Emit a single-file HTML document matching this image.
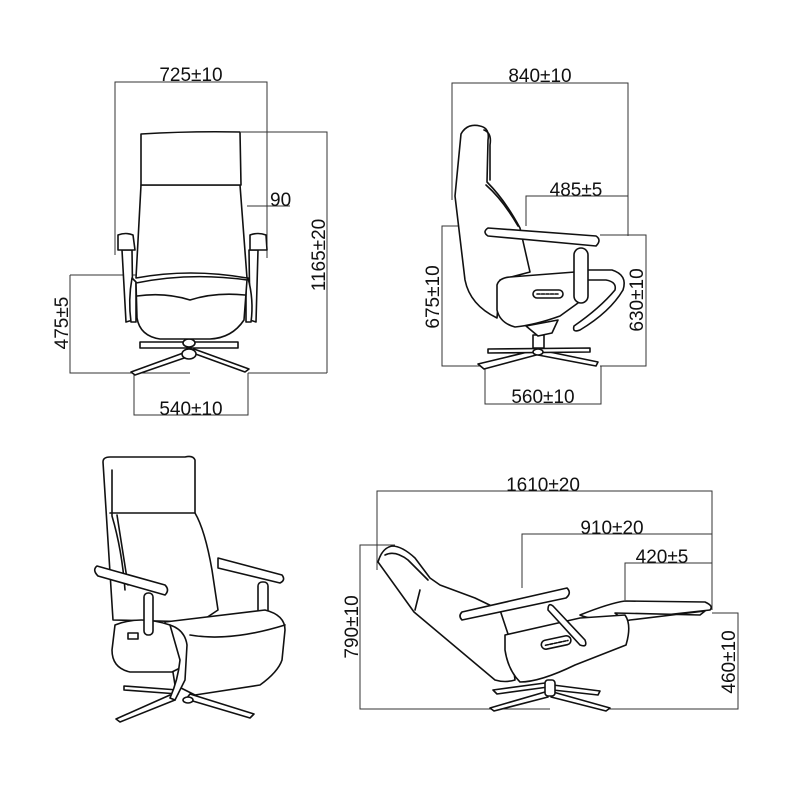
<!DOCTYPE html>
<html><head><meta charset="utf-8"><style>
html,body{margin:0;padding:0;background:#fff;}
svg{display:block}
text{font-family:"Liberation Sans",Arial,sans-serif;font-size:19px;fill:#111;}
.d{stroke:#333;stroke-width:1;fill:none}
.c{stroke:#111;stroke-width:1.6;fill:#fff;stroke-linejoin:round;stroke-linecap:round}
.n{stroke:#111;stroke-width:1.6;fill:none;stroke-linejoin:round;stroke-linecap:round}
</style></head><body>
<svg width="800" height="800" viewBox="0 0 800 800" xmlns="http://www.w3.org/2000/svg">
<!-- ===== FRONT VIEW ===== -->
<g>
<path class="d" d="M115 255V82H267V258M241 132H327V373M248 373H327M247 206H290M70 275H136M70 275V373H190M134 373V415H248V373"/>
<text x="191" y="81" text-anchor="middle">725±10</text>
<text x="270" y="206">90</text>
<text transform="translate(325,255) rotate(-90)" text-anchor="middle">1165±20</text>
<text transform="translate(68,323) rotate(-90)" text-anchor="middle">475±5</text>
<text x="191" y="415" text-anchor="middle">540±10</text>
<!-- base -->
<path class="c" d="M140 342L238 342L238 348L140 348Z"/>
<path class="c" d="M186 352L131 372L135 375L190 356Z"/>
<path class="c" d="M190 352L245 372L249 369L194 349Z"/>
<ellipse class="c" cx="189" cy="354" rx="7" ry="5"/>
<ellipse class="c" cx="189" cy="343" rx="6" ry="4"/>
<!-- side posts -->
<path class="c" d="M122 250L132 250L133 320L126 322Z"/>
<path class="c" d="M249 250L258 250L256 322L250 320Z"/>
<path class="c" d="M132 278Q128 300 131 322L136 322L136 282Z"/>
<path class="c" d="M248 278Q254 300 251 322L246 322L246 282Z"/>
<!-- seat -->
<path class="c" d="M136 283Q190 272 247 280L244 320Q232 338 210 339L160 339Q140 336 137 318Z"/>
<path class="n" d="M137 296Q165 292 190 300Q215 292 245 295"/>
<!-- back -->
<path class="c" d="M141 185L136 278Q190 268 247 278L240 185Z"/>
<!-- headrest -->
<path class="c" d="M141 134Q190 131 240 132L241 185L141 185Z"/>
<!-- arms -->
<path class="c" d="M118 235Q126 232 133 235L135 250L118 250Z"/>
<path class="c" d="M250 235Q258 232 266 235L267 250L250 250Z"/>
</g>

<!-- ===== SIDE VIEW ===== -->
<g>
<path class="d" d="M452 200V83H628V236M526 226V196H628M488 226H442V366H485M442 366H480M600 235H646V366H600M485 366V404H601V366"/>
<text x="540" y="82" text-anchor="middle">840±10</text>
<text x="576" y="196" text-anchor="middle">485±5</text>
<text transform="translate(439,297) rotate(-90)" text-anchor="middle">675±10</text>
<text transform="translate(643,300) rotate(-90)" text-anchor="middle">630±10</text>
<text x="543" y="403" text-anchor="middle">560±10</text>
<!-- base -->
<path class="c" d="M478 364L536 350L540 354L484 369Z"/>
<path class="c" d="M540 350L598 362L596 366L538 355Z"/>
<path class="c" d="M488 349L590 348L590 352L488 353Z"/>
<rect class="c" x="533" y="335" width="11" height="13"/>
<ellipse class="c" cx="538" cy="352" rx="5" ry="3"/>
<!-- back -->
<path class="c" d="M455 196L461 134Q467 123 480 126Q490 128 488 140L487 182Q505 200 520 228L525 250L530 272L500 280L497 318Q470 305 465 280Z"/>
<path class="n" d="M484 130Q492 133 490 145L490 180M486 185Q503 200 518 226"/>
<!-- footrest loop -->
<path class="c" d="M583 270L612 270Q628 275 623 290Q610 312 580 330Q572 333 574 326Q600 308 615 290Q617 282 606 280L583 280Z"/>
<!-- seat body -->
<path class="c" d="M497 285Q499 278 510 277L575 272L578 303L560 316Q535 325 515 327Q500 323 497 310Z"/>
<path class="c" d="M526 326L558 320L552 333L538 336Z"/>
<rect class="c" x="533" y="290" width="30" height="8" rx="4"/>
<path class="n" d="M537 294H559" stroke-dasharray="3 1.5"/>
<!-- arm post -->
<rect class="c" x="574" y="248" width="14" height="55" rx="7"/>
<!-- armrest -->
<path class="c" d="M488 228L596 236Q602 240 596 246L488 236Q482 232 488 228Z"/>
</g>

<!-- ===== PERSPECTIVE VIEW ===== -->
<g>
<path class="c" d="M124 686L178 690L178 694L124 690Z"/>
<path class="c" d="M116 719L170 695L175 700L120 722Z"/>
<path class="c" d="M190 694L254 714L250 718L186 699Z"/>
<ellipse class="c" cx="188" cy="700" rx="5" ry="3"/>
<path class="c" d="M103 462L113 620L200 622L218 610L212 570Q205 530 195 513L195 460Q193 455 185 457L110 457Q103 457 103 462Z"/>
<path class="n" d="M110 513L195 513M112 470L112 516Q122 550 125 590M117 515L128 585"/>
<path class="c" d="M218 558L282 575Q286 580 280 583L218 568Z"/>
<rect class="c" x="258" y="582" width="10" height="32" rx="4"/>
<path class="c" d="M165 622L265 610Q285 615 285 630L282 660Q278 672 260 685L195 695L175 685Z"/>
<path class="n" d="M190 635Q230 642 285 625"/>
<path class="c" d="M115 625Q140 615 170 625L183 640L180 668L172 672L130 672Q112 668 112 650Z"/>
<path class="c" d="M170 625Q185 630 187 645L185 680L175 700L170 698Q178 680 180 660Z"/>
<rect class="c" x="128" y="633" width="10" height="6"/>
<path class="c" d="M97 566L165 585Q170 590 165 595L98 576Q92 570 97 566Z"/>
<rect class="c" x="144" y="593" width="9" height="42" rx="4"/>
</g>

<!-- ===== RECLINED VIEW ===== -->
<g>
<path class="d" d="M377 570V491H712V610M522 588V534H712M625 600V563H712M395 545H360V709H550M712 613H738V709H600"/>
<text x="543" y="491" text-anchor="middle">1610±20</text>
<text x="612" y="534" text-anchor="middle">910±20</text>
<text x="662" y="563" text-anchor="middle">420±5</text>
<text transform="translate(358,627) rotate(-90)" text-anchor="middle">790±10</text>
<text transform="translate(735,662) rotate(-90)" text-anchor="middle">460±10</text>
<path class="c" d="M493 690L545 683L548 687L497 694Z"/>
<path class="c" d="M490 708L545 692L548 697L494 711Z"/>
<path class="c" d="M553 685L600 691L598 695L553 690Z"/>
<path class="c" d="M553 692L610 708L606 711L551 697Z"/>
<rect class="c" x="545" y="680" width="10" height="16" rx="3"/>
<path class="c" d="M580 615Q610 603 625 601L705 602Q714 606 710 610L620 620Q590 620 580 615Z"/>
<path class="c" d="M615 613Q625 622 630 620L705 611L700 615Z"/>
<path class="c" d="M378 562Q382 548 392 546Q402 546 415 558L430 578L440 585L475 598L500 610L510 640L515 680Q505 683 495 680L414 612Z"/>
<path class="n" d="M385 555Q395 550 408 560L428 580M420 590L415 610"/>
<path class="c" d="M505 635L580 618L625 615Q632 625 626 645L575 665Q540 682 520 682Q508 670 505 650Z"/>
<rect class="c" x="541" y="638" width="30" height="9" rx="4.5" transform="rotate(-12 556 642)"/>
<path class="n" d="M545 643H568" stroke-dasharray="3 1.5" transform="rotate(-12 556 642)"/>
<path class="c" d="M553 606L585 640Q588 648 580 645L548 610Q548 602 553 606Z"/>
<path class="c" d="M462 612L567 588Q572 593 566 598L462 620Q458 616 462 612Z"/>
</g>
</svg>
</body></html>
